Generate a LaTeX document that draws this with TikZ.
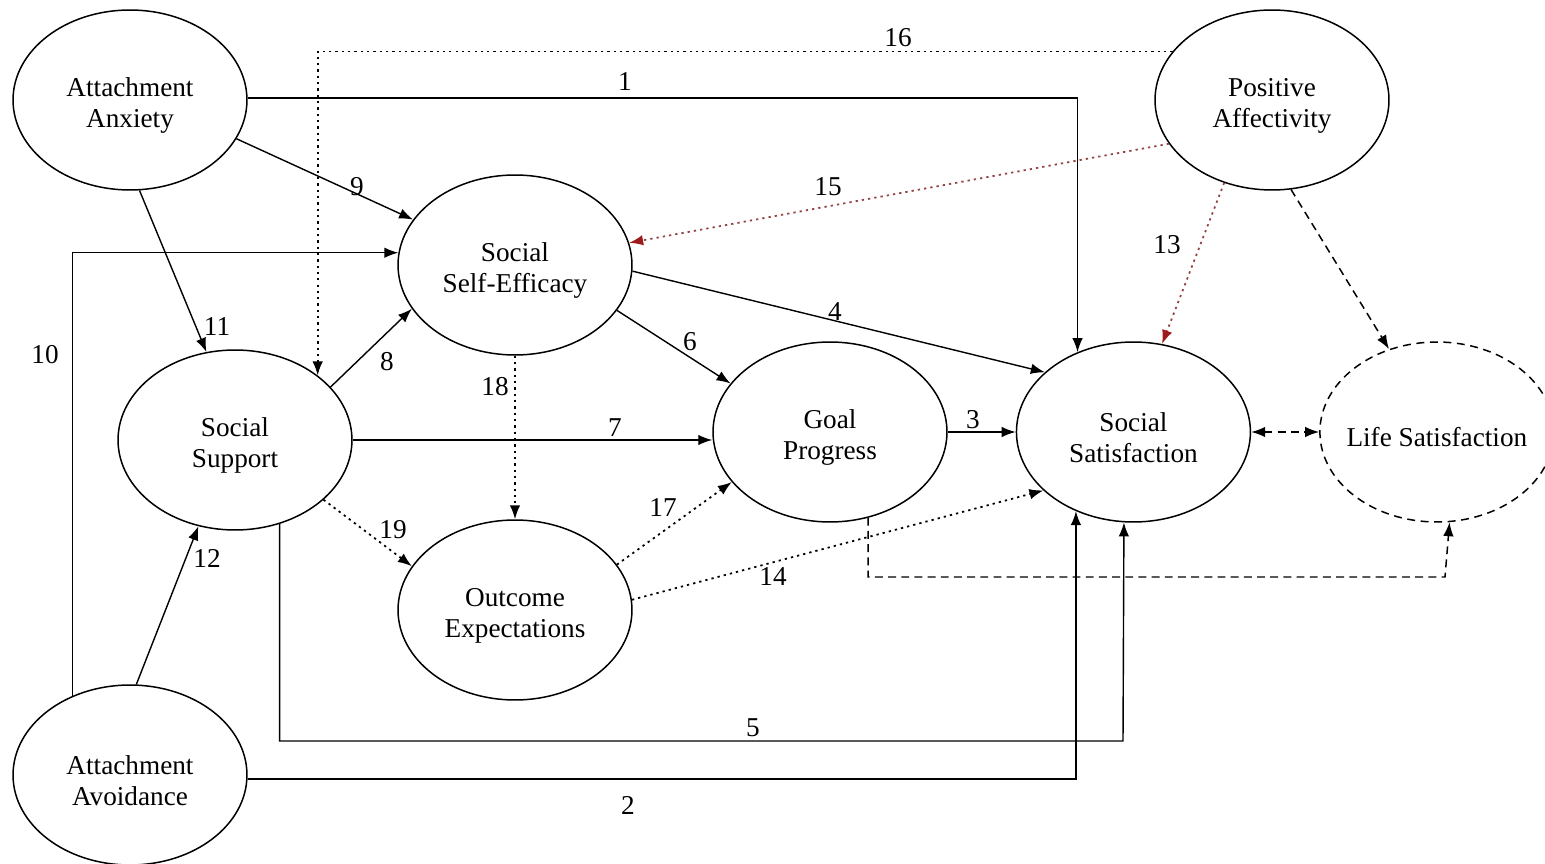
\documentclass[tikz,border=0pt]{standalone}
\usepackage{fontspec}
\setmainfont{Liberation Serif}
\usepackage{tikz}
\usetikzlibrary{positioning, arrows.meta, shapes.geometric}
\definecolor{darkred}{HTML}{9E1B1B}
\newcommand{\dropline}{\rule{0pt}{17pt}}

\begin{document}
\begin{tikzpicture}[x=0.02cm, y=-0.02cm, >={Latex[length=2.8mm, width=2.1mm]}, node distance=1.36cm,
    latent/.style={ellipse, draw, line width=0.85pt, minimum width=4.68cm, minimum height=3.6cm,
        align=center, font=\fontsize{15.5}{17.6}\selectfont},
    num/.style={font=\fontsize{15.5}{17.6}\selectfont, inner sep=1pt},
    link/.style={line width=0.8pt, ->},
    dots/.style={line width=1pt, dash pattern=on 1.3pt off 2.3pt, ->},
    reddots/.style={line width=1pt, dash pattern=on 1.3pt off 2.3pt, draw=darkred!60!gray,
        -{Latex[length=2.8mm, width=2.1mm, color=darkred]}},
    dashes/.style={line width=0.85pt, dash pattern=on 4.5pt off 3pt, ->}]

    \useasboundingbox (0,0) rectangle (1545,864);

    % 1. Define Nodes
    \node[latent] (AAnx) at (130,100) {\dropline Attachment\\Anxiety};
    \node[latent] (PA) at (1272,100) {\dropline Positive\\Affectivity};
    \node[latent] (SSE) at (515,265) {\dropline Social\\Self-Efficacy};
    \node[latent] (SS) at (235,440) {\dropline Social\\Support};
    \node[latent] (GP) at (830,432) {\dropline Goal\\Progress};
    \node[latent] (SSat) [right=of GP] {\dropline Social\\Satisfaction};
    \node[latent, dash pattern=on 4.5pt off 3.2pt] (LS) [right=of SSat] {\dropline\makebox[0pt]{Life Satisfaction}};
    \node[latent] (OE) at (515,610) {\dropline Outcome\\Expectations};
    \node[latent] (AAvo) at (130,775) {\dropline Attachment\\Avoidance};

    % 2. Solid paths
    \draw[link] (AAnx.1.5) -| (SSat.125.9);
    \draw[link] (AAvo.-2) -| (SSat.234.1);
    \draw[link] (GP.east) -- (SSat.west);
    \draw[link] (SSE.-3.4) -- (SSat.146);
    \coordinate (c5) at (1123,741);
    \draw[link] (SS.298.5) |- (c5) -- (SSat.264.3);
    \draw[link] (SSE.-24.7) -- (GP.154.8);
    \draw[link] (SS.east) -- (SS.east -| GP.west);
    \draw[link] (SS.29.7) -- (SSE.203.2);
    \draw[link] (AAnx.-20.5) -- (SSE.156.9);
    \draw[link] (AAvo.126.6) |- (SSE.174.6);
    \draw[link] (AAnx.-84) -- (SS.108.8);
    \draw[link] (AAvo.86.8) -- (SS.247.6);

    % 3. Dotted paths
    \draw[dots] (PA.154.2) -| (SS.38);
    \draw[reddots] (PA.203.7) -- (SSE.11.1);
    \draw[reddots] (PA.240.5) -- (SSat.72.7);
    \draw[dots] (SSE.south) -- (OE.north);
    \draw[dots] (SS.-34.4) -- (OE.157.7);
    \draw[dots] (OE.24.6) -- (GP.207.3);
    \draw[dots] (OE.5.9) -- (SSat.213.1);

    % 4. Dashed paths
    \draw[dashes] (PA.282.5) -- (LS.120);
    \draw[dashes, <->] (SSat.east) -- (LS.west);
    \coordinate (c6) at (1445,577);
    \draw[dashes] (GP.294.1) |- (c6) -- (LS.278.3);

    % 5. Path numbers
    \node[num] (n1) at (625,82) {1};
    \node[num] (n2) at (628,805) {2};
    \node[num] (n3) at (973,420) {3};
    \node[num] (n4) at (835,312) {4};
    \node[num] (n5) at (753,728) {5};
    \node[num] (n6) at (690,342) {6};
    \node[num] (n7) at (615,428) {7};
    \node[num] (n8) at (387,362) {8};
    \node[num] (n9) at (357,187) {9};
    \node[num] (n10) at (45,355) {10};
    \node[num] (n11) at (217,327) {11};
    \node[num] (n12) at (207,558) {12};
    \node[num] (n13) at (1167,245) {13};
    \node[num] (n14) at (773,577) {14};
    \node[num] (n15) at (828,187) {15};
    \node[num] (n16) at (898,38) {16};
    \node[num] (n17) at (663,508) {17};
    \node[num] (n18) at (495,387) {18};
    \node[num] (n19) at (393,530) {19};
\end{tikzpicture}
\end{document}
